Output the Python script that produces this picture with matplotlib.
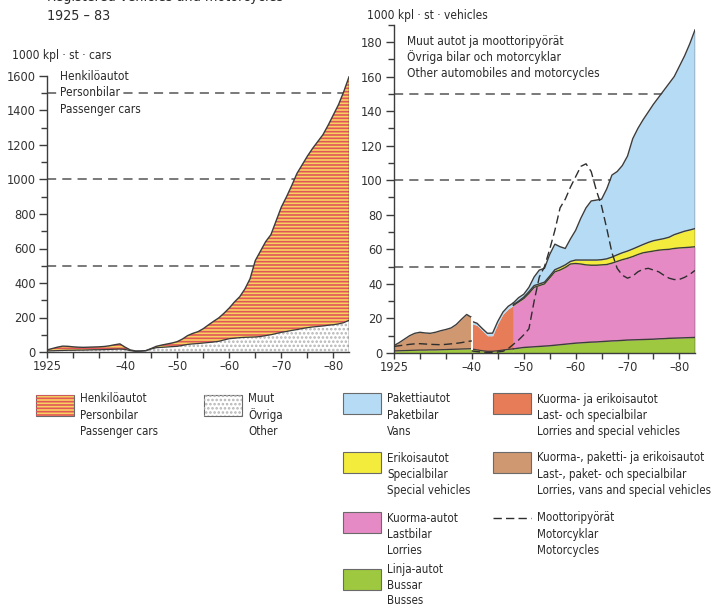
import matplotlib
matplotlib.use("Agg")
import matplotlib.pyplot as plt
from matplotlib import font_manager
import numpy as np
from matplotlib.patches import Rectangle
from matplotlib.lines import Line2D

# pick a condensed face if the system has one
fonts = {(f.name, f.stretch) for f in font_manager.fontManager.ttflist}
narrow = [n for n, s in fonts if "Narrow" in n or "Condensed" in n
          or s in ("condensed", "semi-condensed", "extra-condensed")]
plt.rcParams["font.family"] = sorted(set(narrow))[:1] + ["DejaVu Sans"]
if ("DejaVu Sans", "condensed") in fonts:
    plt.rcParams["font.family"] = ["DejaVu Sans"]
    plt.rcParams["font.stretch"] = "condensed"
plt.rcParams["hatch.linewidth"] = 1.2

# ---- left chart: passenger cars and other vehicles (1000 units) ----
years = list(range(1925, 1984))
other_vehicles = [6, 7, 8, 9, 10, 10, 11, 11, 12, 13, 13, 14, 15, 16, 17,
                  15, 8, 4, 5, 8, 18, 25, 27, 29, 31, 33, 38, 44, 47, 49,
                  52, 55, 58, 62, 70, 77, 80, 83, 85, 86, 87, 90, 95, 100,
                  107, 114, 119, 125, 130, 136, 141, 145, 148, 151, 155,
                  158, 163, 170, 184]
passenger_cars = [6, 13, 20, 25, 23, 20, 17, 16, 16, 16, 17, 18, 21, 26, 30,
                  13, 4, 2, 1, 0, 2, 8, 13, 17, 21, 27, 37, 51, 61, 69,
                  83, 102, 120, 136, 155, 178, 210, 237, 280, 339, 443, 495,
                  545, 580, 653, 726, 781, 840, 905, 949, 994, 1035, 1072,
                  1109, 1160, 1217, 1272, 1340, 1411]

# ---- right chart: other vehicles (1000 units) ----
years_prewar = list(range(1925, 1941))
buses_prewar = [1.2, 1.3, 1.4, 1.5, 1.6, 1.7, 1.7, 1.8, 1.8, 1.9, 2.0, 2.1,
                2.2, 2.3, 2.4, 2.5]
lorries_vans_special = [3.1, 4.7, 6.6, 8.5, 9.8, 10.3, 9.9, 9.6, 10.2, 11.0,
                        11.6, 12.4, 14.3, 17.2, 19.9, 18.0]
moto_prewar = [3.8, 4.2, 4.6, 5.0, 5.3, 5.4, 5.2, 5.0, 4.9, 4.8, 5.0, 5.3,
               5.6, 6.0, 6.6, 7.0]

years_war = list(range(1940, 1949))
buses_war = [2.3, 1.8, 1.3, 1.0, 1.0, 1.3, 1.7, 2.1, 2.4]
lorries_special_war = [14.7, 14.2, 11.7, 9.0, 9.0, 15.7, 20.8, 23.4, 25.1]
vans_war = [1.3, 1.2, 1.2, 1.4, 1.5, 1.3, 1.2, 1.5, 1.5]

years_post = list(range(1948, 1984))
buses = [2.4, 2.8, 3.2, 3.4, 3.6, 3.8, 4.0, 4.2, 4.5, 4.8, 5.1, 5.4, 5.7,
         5.9, 6.1, 6.3, 6.4, 6.6, 6.8, 7.0, 7.1, 7.3, 7.5, 7.6, 7.7, 7.8,
         7.9, 8.0, 8.2, 8.3, 8.5, 8.6, 8.7, 8.8, 8.9, 9.0]
lorries = [25.1, 26.7, 28.3, 31.1, 34.4, 35.2, 36.0, 39.3, 42.5, 43.2, 44.4,
           46.1, 46.1, 45.6, 44.9, 44.5, 44.4, 44.4, 44.4, 45.0, 45.9, 46.7,
           47.3, 48.2, 49.3, 50.2, 50.6, 51.0, 51.3, 51.5, 51.5, 51.9, 52.1,
           52.2, 52.3, 52.5]
special = [0.5, 0.5, 0.8, 1.0, 1.0, 1.0, 1.0, 1.0, 1.2, 1.5, 1.5, 1.5, 2.0,
           2.3, 2.8, 3.0, 3.0, 3.0, 3.3, 3.5, 3.8, 4.0, 4.2, 4.4, 4.5, 4.8,
           5.5, 6.0, 6.1, 6.4, 7.0, 8.0, 8.7, 9.5, 10.0, 10.5]
vans = [1.0, 2.0, 1.7, 2.5, 5.0, 8.0, 8.0, 12.5, 14.8, 12.0, 9.5, 13.0, 17.2,
        24.2, 30.2, 34.2, 34.7, 35.0, 40.5, 47.5, 48.2, 50.5, 55.0, 63.8,
        68.5, 72.2, 75.5, 79.0, 82.4, 85.8, 89.0, 91.5, 96.5, 101.5, 107.8,
        115.0]

years_moto = list(range(1940, 1984))
moto_postwar = [1.2, 0.8, 0.5, 0.4, 0.4, 0.6, 1.0, 2.5, 5.0, 7.5, 10.5, 14.0,
                30.0, 44.0, 50.0, 60.0, 71.0, 84.0, 89.0, 96.0, 102.0, 108.0,
                109.5, 105.0, 94.0, 85.0, 72.0, 58.0, 49.0, 45.0, 43.3, 44.5,
                47.0, 48.5, 49.0, 48.0, 47.0, 45.0, 43.3, 42.5, 42.6, 43.8,
                45.5, 47.8]

decade_ticks = [1925, 1940, 1950, 1960, 1970, 1980]
decade_labels = ["1925", "–40", "–50", "–60", "–70", "–80"]

C_CARS_BG = "#f8d25e"
C_CARS_LINE = "#e2565a"
C_DOTS = "#b4b4b4"
C_VANS = "#b5dcf4"
C_SPECIAL = "#f4ec3c"
C_LORRIES = "#e68ac6"
C_BUSES = "#9ec83f"
C_LORR_SPEC = "#e77c58"
C_COMBINED = "#cf9871"
C_EDGE = "#3c3c3c"
C_DASH = "#555555"
FS = 8.6

W, H = 712, 607
fig = plt.figure(figsize=(W / 100, H / 100), dpi=100)


def fig_rect(x0, y_top, x1, y_bot):
    return [x0 / W, 1 - y_bot / H, (x1 - x0) / W, (y_bot - y_top) / H]


def style_axes(ax, ymax, ymajor, yminor):
    for side in ("top", "right"):
        ax.spines[side].set_visible(False)
    for side in ("left", "bottom"):
        ax.spines[side].set_color(C_EDGE)
        ax.spines[side].set_linewidth(1.0)
    ax.set_xlim(1925, 1983)
    ax.set_ylim(0, ymax)
    ax.set_xticks(decade_ticks)
    ax.set_xticklabels(decade_labels)
    ax.set_xticks(list(range(1925, 1984, 5)), minor=True)
    ax.set_yticks(ymajor)
    ax.set_yticks(yminor, minor=True)
    ax.tick_params(which="both", direction="out", color=C_EDGE, width=1.0,
                   labelsize=9.2, labelcolor="#333333", pad=2)
    ax.tick_params(axis="y", which="major", length=6)
    ax.tick_params(axis="y", which="minor", length=4)
    ax.tick_params(axis="x", which="both", length=4)
    ax.patch.set_alpha(0)


# ---- left axes ----
axL = fig.add_axes(fig_rect(47, 76, 349, 352))
style_axes(axL, 1600, list(range(0, 1601, 200)), list(range(0, 1601, 100)))
other = np.array(other_vehicles, dtype=float)
total = other + np.array(passenger_cars, dtype=float)
for level in (500, 1000, 1500):
    axL.axhline(level, color=C_DASH, lw=1.1, dashes=(6, 4), zorder=1)
axL.fill_between(years, 0, other, facecolor="white", edgecolor="none",
                 lw=0, zorder=2)
axL.fill_between(years, 0, other, facecolor="none", edgecolor=C_DOTS,
                 hatch="....", lw=0, zorder=2)
axL.fill_between(years, other, total, facecolor=C_CARS_BG, edgecolor="none",
                 lw=0, zorder=2)
axL.fill_between(years, other, total, facecolor="none", edgecolor=C_CARS_LINE,
                 hatch="-----", lw=0, zorder=2)
axL.plot(years, total, color=C_EDGE, lw=1.0, zorder=3)
axL.plot(years, other, color=C_EDGE, lw=0.9, zorder=3)
axL.plot([years[-1]] * 2, [0, total[-1]], color=C_EDGE, lw=1.0, zorder=3)

# ---- right axes ----
axR = fig.add_axes(fig_rect(394, 24.7, 695, 353))
style_axes(axR, 190, list(range(0, 181, 20)), list(range(0, 191, 10)))
for level in (50, 100, 150):
    axR.axhline(level, color=C_DASH, lw=1.1, dashes=(6, 4), zorder=1)

b = np.array(buses_prewar)
t1 = b + np.array(lorries_vans_special)
axR.fill_between(years_prewar, 0, b, color=C_BUSES, lw=0, zorder=2)
axR.fill_between(years_prewar, b, t1, color=C_COMBINED, lw=0, zorder=2)
axR.plot(years_prewar, b, color=C_EDGE, lw=0.9, zorder=3)
axR.plot(years_prewar, t1, color=C_EDGE, lw=1.0, zorder=3)

bw = np.array(buses_war)
w1 = bw + np.array(lorries_special_war)
w2 = w1 + np.array(vans_war)
axR.fill_between(years_war, 0, bw, color=C_BUSES, lw=0, zorder=2)
axR.fill_between(years_war, bw, w1, color=C_LORR_SPEC, lw=0, zorder=2)
axR.fill_between(years_war, w1, w2, color=C_VANS, lw=0, zorder=2)
axR.plot(years_war, bw, color=C_EDGE, lw=0.9, zorder=3)
axR.plot(years_war, w2, color=C_EDGE, lw=1.0, zorder=3)

bp = np.array(buses)
p1 = bp + np.array(lorries)
p2 = p1 + np.array(special)
p3 = p2 + np.array(vans)
axR.fill_between(years_post, 0, bp, color=C_BUSES, lw=0, zorder=2)
axR.fill_between(years_post, bp, p1, color=C_LORRIES, lw=0, zorder=2)
axR.fill_between(years_post, p1, p2, color=C_SPECIAL, lw=0, zorder=2)
axR.fill_between(years_post, p2, p3, color=C_VANS, lw=0, zorder=2)
for top in (bp, p1, p2, p3):
    axR.plot(years_post, top, color=C_EDGE, lw=1.0, zorder=3)
axR.plot([years_post[-1]] * 2, [0, p3[-1]], color=C_EDGE, lw=1.0, zorder=3)
# white seam where the pre-war series ends
axR.plot([years_prewar[-1]] * 2, [b[-1], t1[-1]], color="white", lw=1.4,
         zorder=3)

axR.plot(years_prewar, moto_prewar, color="#2e2e2e", lw=1.0, dashes=(6, 3),
         zorder=4)
axR.plot(years_moto, moto_postwar, color="#2e2e2e", lw=1.0, dashes=(6, 3),
         zorder=4)

# ---- texts and legend on an overlay in pixel coordinates ----
lax = fig.add_axes([0, 0, 1, 1])
lax.set_xlim(0, W)
lax.set_ylim(H, 0)
lax.axis("off")

TXT = dict(fontsize=FS, color="#2a2a2a", va="center", ha="left")
LEG = dict(TXT, fontsize=8.3)
lax.text(47, 1.5, "Registered vehicles and motorcycles", fontsize=10.3,
         color="#2a2a2a", va="baseline", ha="left")
lax.text(47, 16, "1925 – 83", fontsize=10.3, color="#2a2a2a", va="center")
lax.text(12, 55, "1000 kpl · st · cars", **TXT)
lax.text(367, 15, "1000 kpl · st · vehicles", **TXT)
lax.text(60, 77, "Henkilöautot", **TXT)
lax.text(60, 93, "Personbilar", bbox=dict(facecolor="white", edgecolor="none",
                                         pad=1.5), **TXT)
lax.text(60, 109, "Passenger cars", **TXT)
lax.text(407, 42, "Muut autot ja moottoripyörät", **TXT)
lax.text(407, 57, "Övriga bilar och motorcyklar", **TXT)
lax.text(407, 73, "Other automobiles and motorcycles", **TXT)

legend_items = [
    (36, 395, 80, 399, dict(facecolor=C_CARS_BG), "cars",
     ["Henkilöautot", "Personbilar", "Passenger cars"]),
    (204, 395, 248, 399, dict(facecolor="white"), "dots",
     ["Muut", "Övriga", "Other"]),
    (343, 393, 387, 399, dict(facecolor=C_VANS), None,
     ["Pakettiautot", "Paketbilar", "Vans"]),
    (343, 452, 387, 458, dict(facecolor=C_SPECIAL), None,
     ["Erikoisautot", "Specialbilar", "Special vehicles"]),
    (343, 512, 387, 518, dict(facecolor=C_LORRIES), None,
     ["Kuorma-autot", "Lastbilar", "Lorries"]),
    (343, 569, 387, 570, dict(facecolor=C_BUSES), None,
     ["Linja-autot", "Bussar", "Busses"]),
    (493, 393, 537, 399, dict(facecolor=C_LORR_SPEC), None,
     ["Kuorma- ja erikoisautot", "Last- och specialbilar",
      "Lorries and special vehicles"]),
    (493, 452, 537, 458, dict(facecolor=C_COMBINED), None,
     ["Kuorma-, paketti- ja erikoisautot", "Last-, paket- och specialbilar",
      "Lorries, vans and special vehicles"]),
]
for sx, sy, tx, ty, fc, extra, lines in legend_items:
    lax.add_patch(Rectangle((sx, sy), 38, 21, edgecolor="#6a6a6a", lw=0.8,
                            **fc))
    if extra == "cars":
        lax.add_patch(Rectangle((sx, sy), 38, 21, facecolor="none",
                                edgecolor=C_CARS_LINE, hatch="-----", lw=0))
    elif extra == "dots":
        lax.add_patch(Rectangle((sx, sy), 38, 21, facecolor="none",
                                edgecolor=C_DOTS, hatch="....", lw=0))
    step = 15.2 if lines[0] == "Linja-autot" else 16.3
    for i, line in enumerate(lines):
        lax.text(tx, ty + i * step, line, **LEG)

lax.add_line(Line2D([493, 531], [518, 518], color="#2e2e2e", lw=1.0,
                    dashes=(6, 3)))
for i, line in enumerate(["Moottoripyörät", "Motorcyklar", "Motorcycles"]):
    lax.text(537, 518 + i * 16.3, line, **LEG)

fig.savefig("out.png", dpi=100)
